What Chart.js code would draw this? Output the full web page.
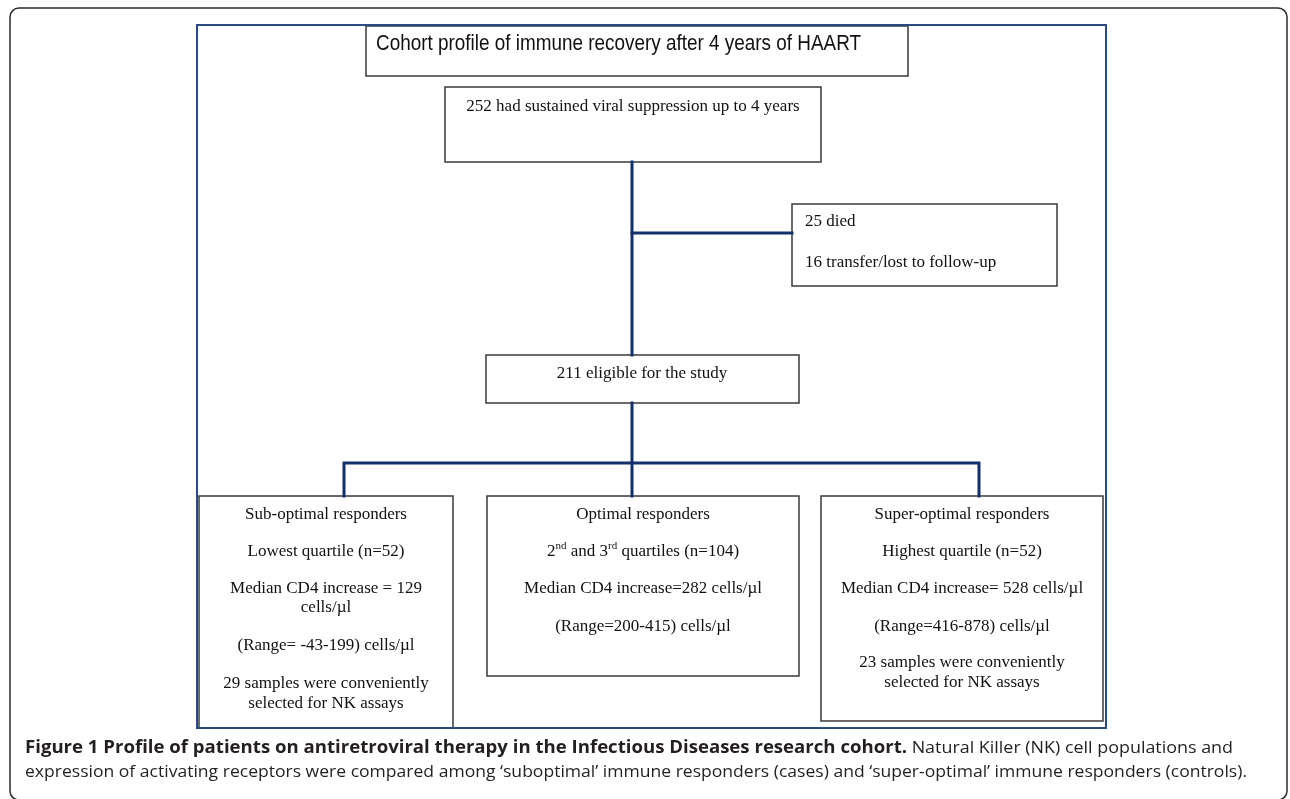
<!DOCTYPE html>
<html>
<head>
<meta charset="utf-8">
<script src="https://cdn.jsdelivr.net/npm/chart.js@4/dist/chart.umd.min.js"></script>
<style>
  html, body { margin: 0; padding: 0; background: #fff; }
  canvas { display: block; }
</style>
</head>
<body>
<canvas id="cohort_flow" width="1290" height="799"></canvas>
<script>
// === data ===
const cohortTitle = "Cohort profile of immune recovery after 4 years of HAART";
const suppressed = 252;
const died = 25;
const lostFollowUp = 16;
const eligible = 211;

const groupNames = ["Sub-optimal responders", "Optimal responders", "Super-optimal responders"];
const groupN = [52, 104, 52];
const medianIncrease = [129, 282, 528];
const rangeLow = [-43, 200, 416];
const rangeHigh = [199, 415, 878];
const nkSamples = [29, null, 23];

const captionBold = "Figure 1 Profile of patients on antiretroviral therapy in the Infectious Diseases research cohort.";
const captionRest = [
  " Natural Killer (NK) cell populations and",
  "expression of activating receptors were compared among \u2018suboptimal\u2019 immune responders (cases) and \u2018super-optimal\u2019 immune responders (controls).",
];

// text of each box (segments with "sup" are superscripts)
const groupLines = [
  [
    groupNames[0],
    `Lowest quartile (n=${groupN[0]})`,
    `Median CD4 increase = ${medianIncrease[0]}`,
    "cells/\u00b5l",
    `(Range= ${rangeLow[0]}-${rangeHigh[0]}) cells/\u00b5l`,
    `${nkSamples[0]} samples were conveniently`,
    "selected for NK assays",
  ],
  [
    groupNames[1],
    [["2"], ["nd", "sup"], [" and 3"], ["rd", "sup"], [` quartiles (n=${groupN[1]})`]],
    `Median CD4 increase=${medianIncrease[1]} cells/\u00b5l`,
    `(Range=${rangeLow[1]}-${rangeHigh[1]}) cells/\u00b5l`,
  ],
  [
    groupNames[2],
    `Highest quartile (n=${groupN[2]})`,
    `Median CD4 increase= ${medianIncrease[2]} cells/\u00b5l`,
    `(Range=${rangeLow[2]}-${rangeHigh[2]}) cells/\u00b5l`,
    `${nkSamples[2]} samples were conveniently`,
    "selected for NK assays",
  ],
];

// === layout (page units, same as the axes) ===
const W = 1290, H = 799;
const frame = { x0: 197, y0: 25, x1: 1106, y1: 728 };
const titleBox = { x0: 366, y0: 26, x1: 908, y1: 76 };
const suppBox = { x0: 445, y0: 87, x1: 821, y1: 162 };
const exitBox = { x0: 792, y0: 204, x1: 1057, y1: 286 };
const eligBox = { x0: 486, y0: 355, x1: 799, y1: 403 };
const groupBoxes = [
  { x0: 199, y0: 496, x1: 453, y1: 728 },
  { x0: 487, y0: 496, x1: 799, y1: 676 },
  { x0: 821, y0: 496, x1: 1103, y1: 721 },
];
const groupLineY = [
  [515, 552, 589, 608, 646, 684, 704],
  [515, 552, 589, 627],
  [515, 552, 589, 627, 663, 683],
];
const connectors = [
  [[632, 162], [632, 355]],
  [[632, 233], [792, 233]],
  [[632, 403], [632, 496]],
  [[344, 496], [344, 463], [979, 463], [979, 496]],
];

const NAVY = "#12316a";
const SERIF = '17px "Liberation Serif", "Times New Roman", serif';
const SERIF_SUP = '11px "Liberation Serif", "Times New Roman", serif';

// === build datasets ===
const outline = (b) => [
  { x: b.x0, y: b.y0 }, { x: b.x1, y: b.y0 }, { x: b.x1, y: b.y1 },
  { x: b.x0, y: b.y1 }, { x: b.x0, y: b.y0 },
];
const lineSet = (pts, color, width) => ({
  data: pts,
  showLine: true,
  borderColor: color,
  borderWidth: width,
  pointRadius: 0,
  fill: false,
  tension: 0,
  borderJoinStyle: "miter",
  borderCapStyle: "square",
});

const datasets = [
  lineSet(outline(frame), "#2a4a86", 2),
  ...connectors.map((c) => lineSet(c.map(([x, y]) => ({ x, y })), NAVY, 3)),
  ...[titleBox, suppBox, exitBox, eligBox, ...groupBoxes].map((b) => lineSet(outline(b), "#3a3a3a", 1.5)),
];

// draw text stretched or squeezed to a given width
function fitText(ctx, text, x, y, width) {
  const sx = width / ctx.measureText(text).width;
  ctx.save();
  ctx.translate(x, y);
  ctx.scale(sx, 1);
  ctx.fillText(text, 0, 0);
  ctx.restore();
}

// === text + outer page frame ===
const textPlugin = {
  id: "flowText",
  beforeDatasetsDraw(chart) {
    const { ctx, scales } = chart;
    const px = (v) => scales.x.getPixelForValue(v);
    const py = (v) => scales.y.getPixelForValue(v);
    // rounded outer frame
    ctx.save();
    ctx.strokeStyle = "#2b2b2b";
    ctx.lineWidth = 1.5;
    ctx.beginPath();
    ctx.roundRect(px(10), py(8), px(1287) - px(10), py(800) - py(8), 9);
    ctx.stroke();
    ctx.restore();
  },
  afterDatasetsDraw(chart) {
    const { ctx, scales } = chart;
    const px = (v) => scales.x.getPixelForValue(v);
    const py = (v) => scales.y.getPixelForValue(v);
    ctx.save();
    ctx.fillStyle = "#111";
    ctx.textBaseline = "middle";

    // title (narrow sans)
    ctx.font = '22px "Liberation Sans Narrow", "Arial Narrow", "Liberation Sans", Arial, sans-serif';
    ctx.textAlign = "left";
    fitText(ctx, cohortTitle, px(376), py(44), 485);

    ctx.font = SERIF;
    ctx.textAlign = "center";
    ctx.fillText(`${suppressed} had sustained viral suppression up to 4 years`, px(633), py(107));
    ctx.fillText(`${eligible} eligible for the study`, px(642), py(374));

    ctx.textAlign = "left";
    ctx.fillText(`${died} died`, px(805), py(222));
    ctx.fillText(`${lostFollowUp} transfer/lost to follow-up`, px(805), py(263));

    // group boxes
    groupLines.forEach((lines, g) => {
      const b = groupBoxes[g];
      const cx = px((b.x0 + b.x1) / 2);
      lines.forEach((ln, i) => {
        const y = py(groupLineY[g][i]);
        if (typeof ln === "string") {
          ctx.font = SERIF;
          ctx.textAlign = "center";
          ctx.fillText(ln, cx, y);
        } else {
          // rich line with superscripts
          ctx.textAlign = "left";
          const widths = ln.map(([t, k]) => {
            ctx.font = k === "sup" ? SERIF_SUP : SERIF;
            return ctx.measureText(t).width;
          });
          let x = cx - widths.reduce((a, w) => a + w, 0) / 2;
          ln.forEach(([t, k], j) => {
            ctx.font = k === "sup" ? SERIF_SUP : SERIF;
            ctx.fillText(t, x, k === "sup" ? y - 6 : y);
            x += widths[j];
          });
        }
      });
    });

    // caption: bold lead, then regular text
    ctx.fillStyle = "#231f20";
    ctx.textAlign = "left";
    ctx.font = '700 17.5px "Open Sans", "Noto Sans", sans-serif';
    fitText(ctx, captionBold, px(25), py(748), 882);
    ctx.font = '400 17px "Open Sans", "Noto Sans", sans-serif';
    fitText(ctx, captionRest[0], px(907), py(748), 326);
    fitText(ctx, captionRest[1], px(25), py(772), 1222);

    ctx.restore();
  },
};

new Chart(document.getElementById("cohort_flow").getContext("2d"), {
  type: "scatter",
  data: { datasets },
  options: {
    responsive: false,
    animation: false,
    events: [],
    layout: { padding: 0 },
    plugins: { legend: { display: false }, tooltip: { enabled: false } },
    scales: {
      x: { type: "linear", min: 0, max: W, display: false },
      y: { type: "linear", min: 0, max: H, reverse: true, display: false },
    },
  },
  plugins: [textPlugin],
});
</script>
</body>
</html>
